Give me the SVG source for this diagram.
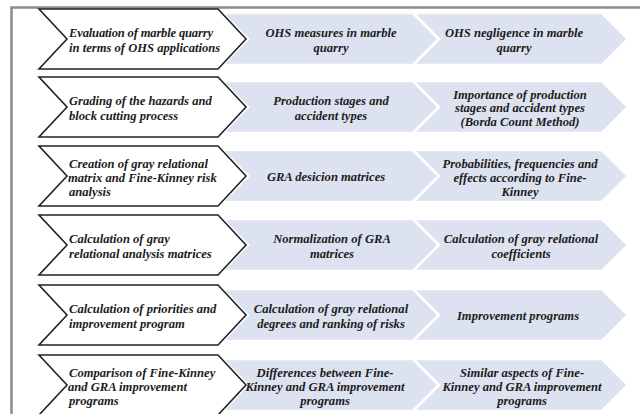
<svg xmlns="http://www.w3.org/2000/svg" xmlns:xlink="http://www.w3.org/1999/xlink" width="640" height="414" viewBox="0 0 640 414">
<style>
.frame{fill:none;stroke:#8c8c8c;stroke-width:2.5}
.w{fill:#ffffff;stroke:#222222;stroke-width:1.6;stroke-linejoin:miter}
.b{fill:#dce2ef;stroke:#ffffff;stroke-width:2.5;stroke-linejoin:miter}
text{font-family:"Liberation Serif","Times New Roman",serif;font-weight:bold;font-style:italic;font-size:12.6px;fill:#1c1c1c}
.l{text-anchor:start}
.m{text-anchor:middle}
</style>
<defs>
<path id="chW" d="M39,0 L218,0 L246,30 L218,60 L39,60 L67,30 Z"/>
<path id="chB2" d="M222,4 L413,4 L439,30 L413,56 L222,56 L248,30 Z"/>
<path id="chB3" d="M413,4 L602,4 L628,30 L602,56 L413,56 L439,30 Z"/>
</defs>
<path class="frame" d="M640,7.5 H11.5 V414"/>
<g id="connectors"></g>

<g id="row1" transform="translate(0,9)">
<g id="r1c2"><use xlink:href="#chB2" class="b"/><text class="m" x="331" y="28">OHS measures in marble</text><text class="m" x="331" y="43">quarry</text></g>
<g id="r1c3"><use xlink:href="#chB3" class="b"/><text class="m" x="514" y="28">OHS negligence in marble</text><text class="m" x="514" y="43">quarry</text></g>
<g id="r1c1"><use xlink:href="#chW" class="w"/><text class="l" x="69" y="28" textLength="144">Evaluation of marble quarry</text><text class="l" x="69" y="43">in terms of OHS  applications</text></g>
</g>

<g id="row2" transform="translate(0,77)">
<g id="r2c2"><use xlink:href="#chB2" class="b"/><text class="m" x="331" y="28">Production stages and</text><text class="m" x="331" y="43">accident types</text></g>
<g id="r2c3"><use xlink:href="#chB3" class="b"/><text class="m" x="520" y="21.5">Importance of production</text><text class="m" x="520" y="35">stages and accident types</text><text class="m" x="520" y="48.5">(Borda Count Method)</text></g>
<g id="r2c1"><use xlink:href="#chW" class="w"/><text class="l" x="69" y="28">Grading of the hazards and</text><text class="l" x="69" y="43">block cutting process</text></g>
</g>

<g id="row3" transform="translate(0,146)">
<g id="r3c2"><use xlink:href="#chB2" class="b"/><text class="m" x="326" y="35">GRA desicion matrices</text></g>
<g id="r3c3"><use xlink:href="#chB3" class="b"/><text class="m" x="520" y="21.5">Probabilities, frequencies and</text><text class="m" x="520" y="35.5">effects according to Fine-</text><text class="m" x="520" y="49.5">Kinney</text></g>
<g id="r3c1"><use xlink:href="#chW" class="w"/><text class="l" x="69" y="21.5">Creation of gray relational</text><text class="l" x="68" y="35.5">matrix and Fine-Kinney risk</text><text class="l" x="69" y="49.5">analysis</text></g>
</g>

<g id="row4" transform="translate(0,215)">
<g id="r4c2"><use xlink:href="#chB2" class="b"/><text class="m" x="332" y="28">Normalization of GRA</text><text class="m" x="332" y="43">matrices</text></g>
<g id="r4c3"><use xlink:href="#chB3" class="b"/><text class="m" x="521" y="28">Calculation of gray relational</text><text class="m" x="521" y="43">coefficients</text></g>
<g id="r4c1"><use xlink:href="#chW" class="w"/><text class="l" x="69" y="28">Calculation of gray</text><text class="l" x="69" y="43">relational analysis matrices</text></g>
</g>

<g id="row5" transform="translate(0,285)">
<g id="r5c2"><use xlink:href="#chB2" class="b"/><text class="m" x="331" y="28">Calculation of gray relational</text><text class="m" x="331" y="43">degrees and ranking of risks</text></g>
<g id="r5c3"><use xlink:href="#chB3" class="b"/><text class="m" x="518" y="35">Improvement programs</text></g>
<g id="r5c1"><use xlink:href="#chW" class="w"/><text class="l" x="69" y="28">Calculation of priorities and</text><text class="l" x="69" y="43">improvement program</text></g>
</g>

<g id="row6" transform="translate(0,355)">
<g id="r6c2"><use xlink:href="#chB2" class="b"/><text class="m" x="325" y="21.5">Differences between Fine-</text><text class="m" x="325" y="35.5">Kinney and GRA improvement</text><text class="m" x="325" y="49.5">programs</text></g>
<g id="r6c3"><use xlink:href="#chB3" class="b"/><text class="m" x="522" y="21.5">Similar aspects of Fine-</text><text class="m" x="522" y="35.5">Kinney and GRA improvement</text><text class="m" x="522" y="49.5">programs</text></g>
<g id="r6c1"><use xlink:href="#chW" class="w"/><text class="l" x="69" y="21.5">Comparison of Fine-Kinney</text><text class="l" x="68" y="35.5">and GRA improvement</text><text class="l" x="69" y="49.5">programs</text></g>
</g>
</svg>
